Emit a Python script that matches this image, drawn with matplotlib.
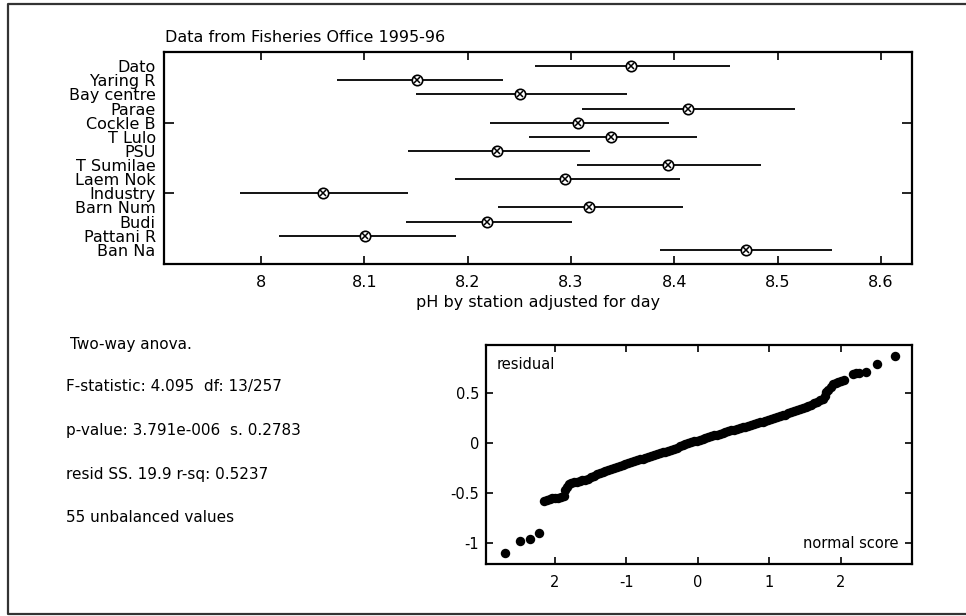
import matplotlib
matplotlib.use("Agg")
import matplotlib.pyplot as plt
from matplotlib.lines import Line2D
from matplotlib.ticker import FixedLocator

plt.rcParams['font.family'] = ['DejaVu Sans']
plt.rcParams['axes.unicode_minus'] = False

# ---- data: station means with interval ends (pH adjusted for day) ----
stations = ["Dato", "Yaring R", "Bay centre", "Parae", "Cockle B", "T Lulo", "PSU",
            "T Sumilae", "Laem Nok", "Industry", "Barn Num", "Budi", "Pattani R", "Ban Na"]
ph_mean = [8.358, 8.151, 8.251, 8.413, 8.307, 8.339, 8.228, 8.394, 8.294, 8.060,
           8.317, 8.219, 8.101, 8.469]
ph_low = [8.265, 8.073, 8.150, 8.311, 8.222, 8.259, 8.142, 8.306, 8.188, 7.980,
          8.229, 8.140, 8.017, 8.386]
ph_high = [8.454, 8.234, 8.354, 8.517, 8.395, 8.422, 8.318, 8.484, 8.405, 8.142,
           8.408, 8.301, 8.189, 8.553]
ph_ticks = [8.0, 8.1, 8.2, 8.3, 8.4, 8.5, 8.6]
ph_ticklabels = ["8", "8.1", "8.2", "8.3", "8.4", "8.5", "8.6"]

# ---- data: normal plot of residuals (normal score, residual) ----
nscore = [-2.70, -2.49, -2.35, -2.22,
          -2.15, -2.11, -2.07, -2.03, -1.99, -1.95, -1.91, -1.87,
          -1.85, -1.83, -1.80, -1.77,
          -1.73, -1.69, -1.65, -1.61, -1.57, -1.53, -1.49, -1.45, -1.41, -1.37,
          -1.33, -1.29, -1.25, -1.21, -1.17, -1.13, -1.09, -1.05, -1.01, -0.97,
          -0.93, -0.89, -0.85, -0.81, -0.77, -0.73, -0.69, -0.65, -0.61, -0.57,
          -0.53, -0.49, -0.45, -0.41, -0.37, -0.33, -0.29, -0.25, -0.21, -0.17,
          -0.13, -0.09, -0.05, -0.01, 0.03, 0.07, 0.11, 0.15, 0.19, 0.23,
          0.27, 0.31, 0.35, 0.39, 0.43, 0.47, 0.51, 0.55, 0.59, 0.63,
          0.67, 0.71, 0.75, 0.79, 0.83, 0.87, 0.91, 0.95, 0.99, 1.03,
          1.07, 1.11, 1.15, 1.19, 1.23, 1.27, 1.31, 1.35, 1.39, 1.43,
          1.47, 1.51, 1.55, 1.59, 1.63, 1.67, 1.71, 1.75, 1.78, 1.80,
          1.83, 1.86, 1.89, 1.93, 1.97, 2.01, 2.05,
          2.17, 2.22, 2.26, 2.36, 2.51, 2.76]
resid = [-1.107, -0.979, -0.962, -0.900,
         -0.583, -0.575, -0.560, -0.555, -0.548, -0.550, -0.545, -0.535,
         -0.470, -0.440, -0.415, -0.400,
         -0.395, -0.390, -0.383, -0.375, -0.370, -0.360, -0.345, -0.330, -0.310, -0.300,
         -0.290, -0.285, -0.275, -0.265, -0.255, -0.245, -0.235, -0.225, -0.210, -0.200,
         -0.190, -0.182, -0.175, -0.165, -0.160, -0.152, -0.145, -0.135, -0.125, -0.115,
         -0.105, -0.095, -0.087, -0.078, -0.068, -0.058, -0.048, -0.035, -0.025, -0.015,
         -0.005, 0.005, 0.015, 0.024, 0.030, 0.040, 0.050, 0.058, 0.067, 0.076,
         0.085, 0.094, 0.103, 0.110, 0.118, 0.126, 0.134, 0.142, 0.150, 0.157,
         0.165, 0.173, 0.180, 0.190, 0.198, 0.206, 0.215, 0.224, 0.233, 0.242,
         0.250, 0.258, 0.267, 0.276, 0.285, 0.296, 0.307, 0.320, 0.333, 0.345,
         0.355, 0.365, 0.375, 0.385, 0.400, 0.415, 0.430, 0.445, 0.470, 0.510,
         0.535, 0.565, 0.590, 0.605, 0.615, 0.625, 0.630,
         0.695, 0.700, 0.705, 0.712, 0.790, 0.875]
ns_ticks = [-2, -1, 0, 1, 2]
ns_ticklabels = ["2", "-1", "0", "1", "2"]
res_ticks = [0.5, 0, -0.5, -1]
res_ticklabels = ["0.5", "0", "-0.5", "-1"]

stats_lines = ["Two-way anova.",
               "F-statistic: 4.095  df: 13/257",
               "p-value: 3.791e-006  s. 0.2783",
               "resid SS. 19.9 r-sq: 0.5237",
               "55 unbalanced values"]

W, H = 966, 616
fig = plt.figure(figsize=(W / 100, H / 100), dpi=100)
FS = 11.5


def fx(px):
    return px / W


def fy(py):
    return 1 - py / H


# ---------------- top chart ----------------
ax = fig.add_axes([fx(164), fy(264), fx(912) - fx(164), fy(52) - fy(264)])
ypos = list(range(len(stations)))
for i in ypos:
    ax.plot([ph_low[i], ph_high[i]], [i, i], color='black', lw=1.3, solid_capstyle='butt', zorder=2)
ax.plot(ph_mean, ypos, linestyle='none', marker='o', ms=7.5, mfc='white',
        mec='black', mew=1.2, zorder=3)
ax.plot(ph_mean, ypos, linestyle='none', marker='x', ms=5, mec='black', mew=1.1, zorder=4)
ax.set_xlim(7.906, 8.630)
ax.set_ylim(len(stations), -1)
ax.set_xticks(ph_ticks)
ax.set_xticklabels(ph_ticklabels, fontsize=FS)
ax.set_yticks(ypos)
ax.set_yticklabels(stations, fontsize=FS, linespacing=1.0)
ax.tick_params(axis='y', which='major', length=0, pad=6)
ax.yaxis.remove_overlapping_locs = False
ax.yaxis.set_minor_locator(FixedLocator([4, 9]))
ax.tick_params(axis='y', which='minor', direction='in', length=7, width=1.2, left=True, right=True)
ax.tick_params(axis='x', which='major', direction='in', length=6, width=1.2, top=True, bottom=True, pad=8)
for s in ax.spines.values():
    s.set_linewidth(1.6)
ax.set_xlabel("pH by station adjusted for day", fontsize=FS)
ax.xaxis.set_label_coords(0.5, -(302 - 264) / (264 - 52))
ax.xaxis.label.set_va('center')
fig.text(fx(165), fy(38), "Data from Fisheries Office 1995-96", fontsize=FS, ha='left', va='center')

# ---------------- statistics text ----------------
text_y = [345, 387, 431, 475, 518]
text_x = [70, 66, 66, 66, 66]
for t, xx, yy in zip(stats_lines, text_x, text_y):
    fig.text(fx(xx), fy(yy), t, fontsize=FS - 0.5, ha='left', va='center')

# ---------------- normal plot ----------------
bx = fig.add_axes([fx(486), fy(564), fx(912) - fx(486), fy(345) - fy(564)])
bx.plot(nscore, resid, linestyle='none', marker='o', ms=6.8, color='black', mew=0)
bx.set_xlim(-2.96, 3.0)
bx.set_ylim(-1.214, 0.983)
bx.set_xticks(ns_ticks)
bx.set_xticklabels(ns_ticklabels, fontsize=FS - 1)
bx.set_yticks(res_ticks)
bx.set_yticklabels(res_ticklabels, fontsize=FS - 1)
bx.tick_params(axis='both', direction='in', length=5, width=1.2, top=True, right=True)
bx.tick_params(axis='x', pad=8)
bx.tick_params(axis='y', pad=5)
for s in bx.spines.values():
    s.set_linewidth(1.6)
bx.text(0.025, 0.91, "residual", transform=bx.transAxes, fontsize=FS - 1, ha='left', va='center')
bx.text(0.968, 0.095, "normal score", transform=bx.transAxes, fontsize=FS - 1, ha='right', va='center')

# ---------------- outer frame ----------------
frame = Line2D([fx(966), fx(8), fx(8), fx(966)], [fy(4), fy(4), fy(614), fy(614)],
               transform=fig.transFigure, color='#333333', lw=1.6)
fig.add_artist(frame)

fig.savefig("out.png", dpi=100)
